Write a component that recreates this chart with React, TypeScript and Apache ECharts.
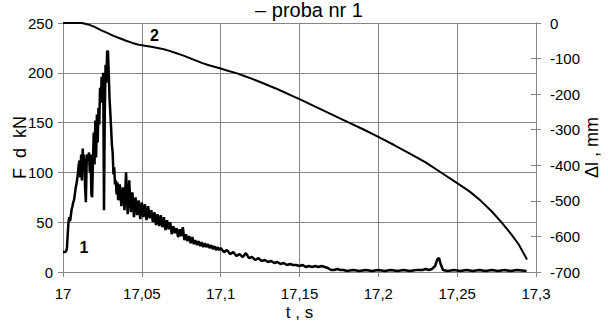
import React, { useEffect, useRef } from 'react';
import * as echarts from 'echarts';

const FONT = '"Liberation Sans", Arial, sans-serif';

const titleText = '– proba nr 1';
const xAxisName = 't , s';
const leftAxisName = 'F  d  kN';
const rightAxisName = 'Δl , mm';
const curveLabels = ['1', '2'];

// Force F (kN) vs time t (s)
const forceData: [number, number][] = [
  [17.0000, 20], [17.0005, 20], [17.0010, 20], [17.0015, 20], [17.0020, 21], [17.0025, 24],
  [17.0030, 38], [17.0035, 50], [17.0040, 55], [17.0045, 51], [17.0050, 57], [17.0055, 63],
  [17.0060, 66], [17.0065, 70], [17.0070, 72], [17.0075, 78], [17.0080, 84], [17.0085, 88],
  [17.0090, 93], [17.0095, 100], [17.0100, 108], [17.0105, 112], [17.0110, 95], [17.0115, 118],
  [17.0120, 92], [17.0125, 124], [17.0130, 105], [17.0135, 118], [17.0140, 85], [17.0145, 70],
  [17.0150, 110], [17.0155, 118], [17.0160, 112], [17.0165, 120], [17.0170, 100], [17.0175, 118],
  [17.0180, 78], [17.0185, 75], [17.0190, 112], [17.0195, 140], [17.0200, 108], [17.0205, 152],
  [17.0210, 115], [17.0215, 158], [17.0220, 130], [17.0225, 165], [17.0230, 148], [17.0235, 185],
  [17.0240, 170], [17.0245, 196], [17.0250, 175], [17.0255, 200], [17.0260, 62], [17.0265, 160],
  [17.0270, 208], [17.0275, 190], [17.0280, 221], [17.0285, 222], [17.0290, 200], [17.0295, 175],
  [17.0300, 160], [17.0305, 145], [17.0310, 128], [17.0315, 120], [17.0320, 98], [17.0325, 105],
  [17.0330, 88], [17.0335, 92], [17.0340, 78], [17.0345, 90], [17.0350, 72],
  [17.036, 88], [17.037, 66], [17.038, 85], [17.039, 62], [17.040, 100], [17.041, 58],
  [17.042, 92], [17.043, 60], [17.044, 80], [17.045, 55], [17.046, 75], [17.047, 57],
  [17.048, 72], [17.049, 53], [17.050, 70], [17.051, 55], [17.052, 68], [17.053, 52],
  [17.054, 66], [17.055, 54], [17.056, 62], [17.057, 50], [17.058, 60], [17.059, 47],
  [17.060, 58], [17.061, 46], [17.062, 57], [17.063, 45], [17.064, 55], [17.065, 42],
  [17.066, 52], [17.067, 43], [17.068, 50], [17.069, 38], [17.070, 46], [17.071, 39],
  [17.072, 44], [17.073, 35], [17.074, 43], [17.075, 36], [17.076, 45], [17.077, 32],
  [17.078, 38], [17.079, 31], [17.080, 36], [17.081, 29], [17.082, 35], [17.083, 28],
  [17.084, 32], [17.085, 27], [17.086, 31], [17.087, 26], [17.088, 30], [17.089, 25],
  [17.090, 29], [17.091, 25], [17.092, 28], [17.093, 24], [17.094, 27], [17.095, 23],
  [17.096, 26], [17.097, 22], [17.098, 25], [17.099, 22], [17.100, 24],
  [17.102, 20], [17.104, 22], [17.106, 18], [17.108, 20], [17.110, 16], [17.112, 18],
  [17.114, 15], [17.116, 19], [17.118, 14], [17.120, 15], [17.122, 12], [17.124, 14],
  [17.126, 11], [17.128, 12], [17.130, 10], [17.132, 11], [17.134, 9], [17.136, 10],
  [17.138, 8], [17.140, 9], [17.142, 7], [17.144, 8], [17.146, 7], [17.148, 7],
  [17.150, 6], [17.152, 7], [17.154, 5], [17.156, 6], [17.158, 5], [17.160, 6],
  [17.162, 5], [17.164, 6], [17.166, 5], [17.168, 4], [17.170, 2], [17.172, 2],
  [17.174, 3], [17.176, 2], [17.178, 2], [17.180, 1], [17.184, 2], [17.188, 1],
  [17.192, 2], [17.196, 1], [17.200, 2], [17.204, 1], [17.208, 2], [17.212, 1],
  [17.216, 2], [17.220, 1], [17.224, 2], [17.228, 2], [17.230, 3], [17.232, 2],
  [17.234, 3], [17.236, 6], [17.2375, 13], [17.2385, 14], [17.2395, 8], [17.241, 2],
  [17.244, 1], [17.248, 2], [17.252, 1], [17.256, 2], [17.260, 1], [17.264, 2],
  [17.268, 1], [17.272, 2], [17.276, 1], [17.280, 2], [17.284, 1], [17.288, 2],
  [17.294, 1],
];

// Displacement Δl (mm) vs time t (s)
const displacementData: [number, number][] = [
  [17.000, 0], [17.006, 0], [17.012, 0], [17.016, -4], [17.020, -11], [17.024, -20],
  [17.028, -28], [17.032, -36], [17.036, -43], [17.040, -50], [17.044, -56], [17.048, -61],
  [17.052, -64], [17.056, -67], [17.060, -70], [17.064, -74], [17.068, -79], [17.072, -85],
  [17.076, -91], [17.080, -98], [17.084, -105], [17.088, -112], [17.092, -118], [17.096, -123],
  [17.100, -128], [17.105, -135], [17.110, -141], [17.115, -149], [17.120, -157], [17.125, -166],
  [17.130, -175], [17.135, -184], [17.140, -194], [17.145, -204], [17.150, -214], [17.160, -235],
  [17.170, -256], [17.180, -277], [17.190, -298], [17.200, -320], [17.210, -343], [17.220, -367],
  [17.230, -392], [17.240, -421], [17.250, -450], [17.258, -474], [17.265, -500], [17.272, -530],
  [17.278, -560], [17.284, -592], [17.289, -622], [17.2943, -665],
];

const labelPositions: { force: [number, number]; displacement: [number, number] } = {
  force: [17.0133, 25],
  displacement: [17.058, -34],
};

const GRAY = '#858585';

function fmtX(v: number): string {
  return String(parseFloat(v.toFixed(2))).replace('.', ',');
}

export default function App() {
  const ref = useRef<HTMLDivElement>(null);
  useEffect(() => {
    const chart = echarts.init(ref.current!, null, { renderer: 'svg' });
    const markLabel = (text: string, coord: [number, number]) => ({
      symbol: 'circle',
      symbolSize: 1,
      itemStyle: { color: 'rgba(0,0,0,0)' },
      label: {
        show: true,
        formatter: text,
        position: 'inside',
        fontWeight: 'bold',
        fontSize: 16,
        color: '#000',
        fontFamily: FONT,
      },
      data: [{ coord }],
    });
    chart.setOption({
      animation: false,
      backgroundColor: '#fff',
      textStyle: { fontFamily: FONT },
      graphic: [
        {
          type: 'text',
          x: 309,
          y: 0,
          style: {
            text: titleText,
            font: `20px ${FONT}`,
            fill: '#000',
            textAlign: 'center',
            textVerticalAlign: 'top',
          },
        },
      ],
      grid: { left: 63, right: 72, top: 23, bottom: 53, containLabel: false, outerBoundsMode: 'none' },
      xAxis: {
        type: 'value',
        min: 17,
        max: 17.3,
        interval: 0.05,
        name: xAxisName,
        nameLocation: 'middle',
        nameGap: 32,
        nameMoveOverlap: false,
        nameTextStyle: { fontSize: 17, color: '#000', fontFamily: FONT },
        axisLine: { show: true, lineStyle: { color: GRAY, width: 1 } },
        axisTick: { show: true, length: 5, lineStyle: { color: GRAY } },
        axisLabel: { fontSize: 15, color: '#000', margin: 14, fontFamily: FONT, formatter: fmtX },
        splitLine: { show: true, lineStyle: { color: GRAY, width: 1 } },
      },
      yAxis: [
        {
          type: 'value',
          position: 'left',
          min: 0,
          max: 250,
          interval: 50,
          name: leftAxisName,
          nameLocation: 'middle',
          nameGap: 34,
          nameMoveOverlap: false,
          nameTextStyle: { fontSize: 18, color: '#000', fontFamily: FONT },
          axisLine: { show: true, lineStyle: { color: GRAY, width: 1 } },
          axisTick: { show: true, length: 5, lineStyle: { color: GRAY } },
          axisLabel: { fontSize: 15, color: '#000', margin: 10, fontFamily: FONT },
          splitLine: { show: true, lineStyle: { color: GRAY, width: 1 } },
        },
        {
          type: 'value',
          position: 'right',
          min: -700,
          max: 0,
          interval: 100,
          name: rightAxisName,
          nameLocation: 'middle',
          nameGap: 47,
          nameMoveOverlap: false,
          nameTextStyle: { fontSize: 18, color: '#000', fontFamily: FONT },
          axisLine: { show: true, lineStyle: { color: GRAY, width: 1 } },
          axisTick: { show: true, length: 5, lineStyle: { color: GRAY } },
          axisLabel: { fontSize: 15, color: '#000', margin: 14, fontFamily: FONT },
          splitLine: { show: false },
        },
        {
          type: 'value',
          position: 'right',
          min: -700,
          max: 0,
          interval: 100,
          axisLine: { show: true, lineStyle: { color: GRAY, width: 1 } },
          axisTick: { show: true, inside: true, length: 5, lineStyle: { color: GRAY } },
          axisLabel: { show: false },
          splitLine: { show: false },
        },
      ],
      series: [
        {
          type: 'line',
          xAxisIndex: 0,
          yAxisIndex: 0,
          data: forceData,
          showSymbol: false,
          symbol: 'none',
          lineStyle: { color: '#000', width: 2.5 },
          markPoint: markLabel(curveLabels[0], labelPositions.force),
        },
        {
          type: 'line',
          xAxisIndex: 0,
          yAxisIndex: 1,
          data: displacementData,
          showSymbol: false,
          symbol: 'none',
          lineStyle: { color: '#000', width: 2 },
          markPoint: markLabel(curveLabels[1], labelPositions.displacement),
        },
      ],
    });
    return () => chart.dispose();
  }, []);
  return (
    <div
      ref={ref}
      style={{ position: 'fixed', left: 0, top: 0, width: 608, height: 325, background: '#fff' }}
    />
  );
}
